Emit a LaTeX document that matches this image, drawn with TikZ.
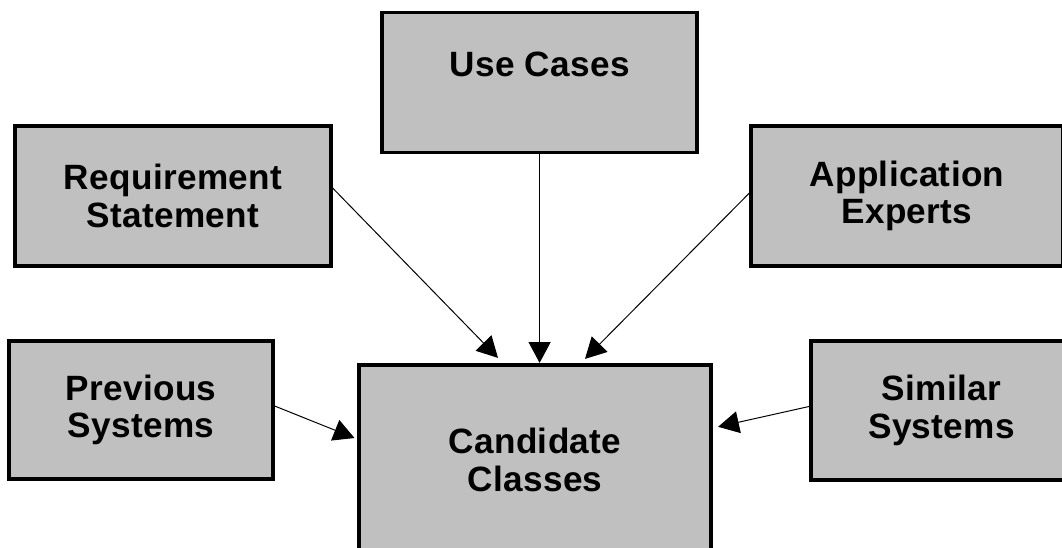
\documentclass[tikz,border=0pt]{standalone}
\usepackage{fontspec}
\setmainfont{Liberation Sans}[LetterSpace=1]
\usepackage{tikz}
\usetikzlibrary{arrows.meta}
\definecolor{boxgray}{HTML}{C0C0C0}

\begin{document}
\begin{tikzpicture}[
  box/.style={draw, line width=2.3pt, fill=boxgray, align=center,
    font=\fontsize{25}{26.7}\selectfont\bfseries},
  flow/.style={-{Triangle[length=0.52cm,width=0.55cm]}, line width=0.7pt}]
\useasboundingbox (0,0) rectangle (26.55,-13.675);
\node[box, minimum width=7.875cm, minimum height=3.5cm] (uc) at (13.49,-2.07) {Use Cases\\ \mbox{}};
\node[box, minimum width=7.9cm, minimum height=3.5cm] (req) at (4.325,-4.9) {Requirement\\Statement};
\node[box, minimum width=7.8cm, minimum height=3.5cm] (app) at (22.675,-4.9) {Application\\Experts};
\node[box, minimum width=6.6cm, minimum height=3.45cm] (prev) at (3.525,-10.25) {Previous\\Systems};
\node[box, minimum width=6.525cm, minimum height=3.475cm] (sim) at (23.54,-10.26) {Similar\\Systems};
\node[box, line width=3pt, minimum width=8.8cm, minimum height=4.75cm] (cand) at (13.375,-11.5) {Candidate\\Classes};
\draw[flow] ([yshift=0.2cm]req.east) -- ([xshift=-0.925cm,yshift=0.125cm]cand.north);
\draw[flow] (uc.south) -- (uc.south |- cand.north);
\draw[flow] ([yshift=0.075cm]app.west) -- ([xshift=1.25cm,yshift=0.1cm]cand.north);
\draw[flow] ([yshift=0.1cm]prev.east) -- ([xshift=-0.06cm,yshift=0.55cm]cand.west);
\draw[flow] ([yshift=0.1cm]sim.west) -- ([xshift=0.125cm,yshift=0.83cm]cand.east);
\end{tikzpicture}
\end{document}
